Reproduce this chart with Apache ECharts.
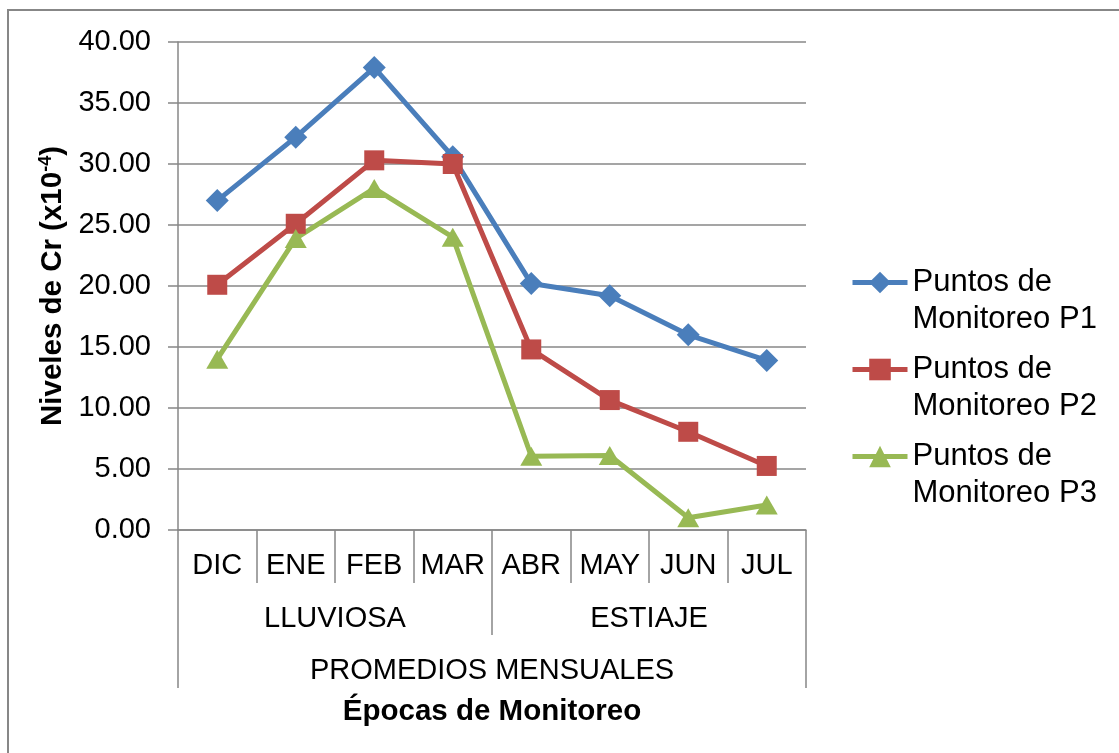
<!DOCTYPE html>
<html>
<head>
<meta charset="utf-8">
<script src="https://cdn.jsdelivr.net/npm/echarts@6/dist/echarts.min.js"></script>
<style>
  html, body { margin: 0; padding: 0; background: #fff; }
  #main { width: 1119px; height: 753px; }
</style>
</head>
<body>
<div id="main"></div>
<script>
// datos
const meses = ["DIC", "ENE", "FEB", "MAR", "ABR", "MAY", "JUN", "JUL"];
const epocas = ["LLUVIOSA", "ESTIAJE"];
const grupo = ["PROMEDIOS MENSUALES"];
const p1 = [27.0, 32.2, 37.9, 30.6, 20.2, 19.2, 16.0, 13.9];
const p2 = [20.1, 25.1, 30.3, 30.0, 14.8, 10.65, 8.05, 5.25];
const p3 = [14.0, 23.9, 28.0, 24.0, 6.05, 6.1, 1.0, 2.05];

const FONT = "Liberation Sans";
const GRIS = "#878787";

let myChart = echarts.init(document.getElementById("main"));

// eje de categorias de varios niveles (meses / epocas / grupo)
function ejeX(data, offset, tickLen, extra) {
  return Object.assign({
    type: "category",
    data: data,
    position: "bottom",
    offset: offset,
    boundaryGap: true,
    axisLine: { show: offset === 0, lineStyle: { color: GRIS, width: 1.5 } },
    axisTick: { show: true, interval: 0, length: tickLen, lineStyle: { color: GRIS, width: 1.5 } },
    axisLabel: { interval: 0, margin: 21, color: "#000", fontFamily: FONT, fontSize: 29 },
    splitLine: { show: false },
  }, extra || {});
}

let option = {
  animation: false,
  textStyle: { fontFamily: FONT },
  graphic: [
    {
      type: "rect",
      shape: { x: 8, y: 10, width: 1200, height: 800 },
      style: { fill: "none", stroke: GRIS, lineWidth: 2 },
      silent: true,
    },
  ],
  grid: { left: 178, right: 313, top: 42, bottom: 223, containLabel: false },
  legend: {
    orient: "vertical",
    left: 845,
    top: 222,
    itemWidth: 55,
    itemHeight: 27,
    itemGap: -24,
    lineStyle: { width: 5 },
    textStyle: { fontFamily: FONT, fontSize: 31, color: "#000", lineHeight: 37 },
    formatter: (name) => "\n" + name.replace(" Monitoreo", "\nMonitoreo"),
    data: ["Puntos de Monitoreo P1", "Puntos de Monitoreo P2", "Puntos de Monitoreo P3"],
  },
  xAxis: [
    ejeX(meses, 0, 53),
    ejeX(epocas, 53, 52),
    ejeX(grupo, 105, 53, {
      name: "Épocas de Monitoreo",
      nameLocation: "middle",
      nameGap: 62,
      nameTextStyle: { fontFamily: FONT, fontSize: 29.5, fontWeight: "bold", color: "#000" },
    }),
  ],
  yAxis: {
    type: "value",
    min: 0,
    max: 40,
    interval: 5,
    name: "{b|Niveles de Cr (x10}{s|-4}{b|)}",
    nameLocation: "middle",
    nameGap: 108,
    nameTextStyle: {
      rich: {
        b: { fontFamily: FONT, fontSize: 29.5, fontWeight: "bold", color: "#000" },
        s: { fontFamily: FONT, fontSize: 18, fontWeight: "bold", color: "#000", padding: [0, 0, 13, 0] },
      },
    },
    axisLine: { show: true, lineStyle: { color: GRIS, width: 1.5 } },
    axisTick: { show: true, length: 10, lineStyle: { color: GRIS, width: 1.5 } },
    axisLabel: {
      margin: 27,
      color: "#000",
      fontFamily: FONT,
      fontSize: 29,
      formatter: (v) => v.toFixed(2),
    },
    splitLine: { show: true, lineStyle: { color: GRIS, width: 1.5 } },
  },
  series: [
    {
      name: "Puntos de Monitoreo P1",
      type: "line",
      data: p1,
      symbol: "diamond",
      symbolSize: 23,
      color: "#4A7EBB",
      lineStyle: { width: 5, color: "#4A7EBB" },
      itemStyle: { color: "#4A7EBB" },
    },
    {
      name: "Puntos de Monitoreo P2",
      type: "line",
      data: p2,
      symbol: "rect",
      symbolSize: 20,
      color: "#BE4B48",
      lineStyle: { width: 5, color: "#BE4B48" },
      itemStyle: { color: "#BE4B48" },
    },
    {
      name: "Puntos de Monitoreo P3",
      type: "line",
      data: p3,
      symbol: "triangle",
      symbolSize: [22, 19],
      color: "#98B954",
      lineStyle: { width: 5, color: "#98B954" },
      itemStyle: { color: "#98B954" },
    },
  ],
};
myChart.setOption(option);
</script>
</body>
</html>
